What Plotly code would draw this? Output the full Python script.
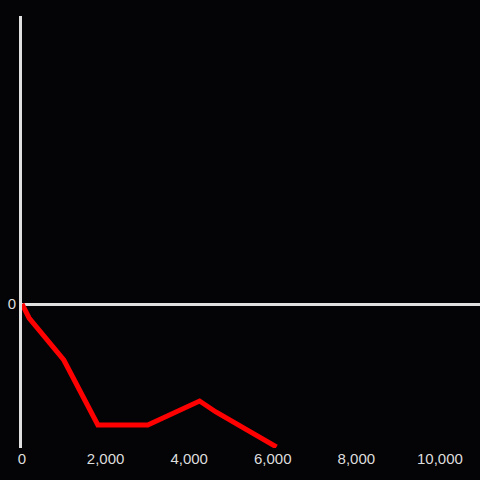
import plotly.graph_objects as go

x_vals = [0, 170, 1000, 1815, 3010, 4250, 4640, 6090]
y_vals = [0, -14, -56, -121, -121, -97, -108, -143]
x_ticks = [0, 2000, 4000, 6000, 8000, 10000]

fig = go.Figure(go.Scatter(x=x_vals, y=y_vals, mode="lines",
                           line=dict(color="#ff0000", width=5)))
fig.update_layout(
    width=480, height=480,
    margin=dict(l=22, r=0, t=16, b=32),
    paper_bgcolor="#040306", plot_bgcolor="#040306",
    showlegend=False,
    font=dict(family="Liberation Sans, Arial, sans-serif", size=15, color="#dddddd"),
)
fig.update_xaxes(range=[0, 10960], tickvals=x_ticks, tickformat=",d",
                 showgrid=False, zeroline=False, showline=False, ticks="")
fig.update_yaxes(range=[-144, 288], tickvals=[0], showgrid=False,
                 zeroline=True, zerolinecolor="#e0e0e0", zerolinewidth=3,
                 showline=True, linecolor="#e0e0e0", linewidth=3, ticks="")
fig.write_html("out.html", config={"displayModeBar": False},
               post_script="document.body.style.margin='0';document.body.style.background='#040306';")
